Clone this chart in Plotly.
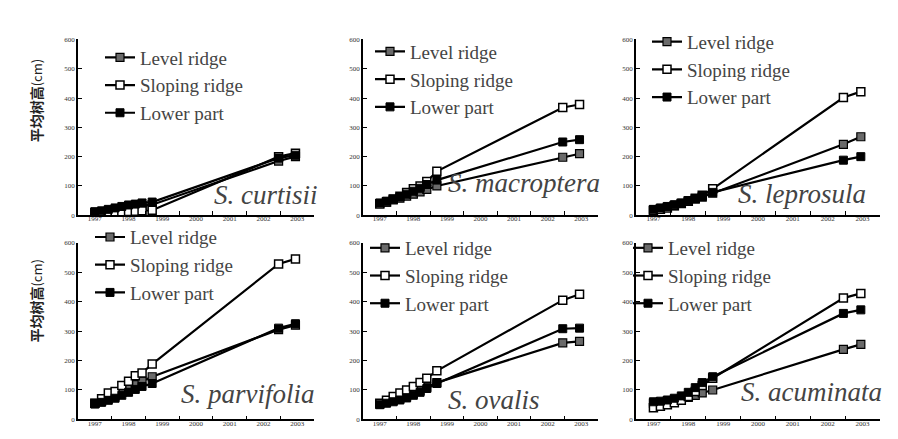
import plotly.graph_objects as go

# ---- data ----
years = [1997.5, 1997.7, 1997.9, 1998.1, 1998.3, 1998.5, 1998.7, 1998.9, 1999.2, 2002.95, 2003.45]
tick_years = ["1997", "1998", "1999", "2000", "2001", "2002", "2003"]
series_names = ["Level ridge", "Sloping ridge", "Lower part"]
species = ["S. curtisii", "S. macroptera", "S. leprosula", "S. parvifolia", "S. ovalis", "S. acuminata"]
y_title_cjk = "平均树高"
y_title_unit = "(cm)"

curtisii_level   = [10, 12, 15, 18, 22, 26, 30, 33, 36, 185, 200]
curtisii_sloping = [8, 9, 10, 11, 12, 13, 14, 15, 17, 200, 212]
curtisii_lower   = [12, 15, 20, 25, 30, 35, 38, 42, 45, 195, 205]

macroptera_level   = [40, 45, 52, 58, 65, 72, 80, 88, 100, 198, 210]
macroptera_sloping = [38, 45, 55, 65, 78, 90, 100, 115, 150, 368, 378]
macroptera_lower   = [42, 48, 55, 62, 72, 82, 92, 105, 120, 250, 258]

leprosula_level   = [18, 22, 28, 33, 40, 48, 55, 62, 75, 242, 268]
leprosula_sloping = [15, 20, 25, 32, 40, 48, 58, 68, 90, 402, 422]
leprosula_lower   = [20, 25, 30, 36, 42, 50, 57, 64, 78, 188, 200]

parvifolia_level   = [55, 62, 72, 80, 92, 105, 118, 130, 145, 305, 320]
parvifolia_sloping = [55, 70, 90, 95, 115, 130, 148, 158, 188, 528, 545]
parvifolia_lower   = [52, 58, 65, 72, 82, 92, 102, 112, 122, 310, 325]

ovalis_level   = [52, 58, 65, 72, 80, 88, 98, 110, 125, 260, 265]
ovalis_sloping = [55, 65, 78, 90, 100, 112, 125, 140, 165, 405, 425]
ovalis_lower   = [50, 55, 60, 66, 73, 82, 92, 105, 122, 308, 310]

acuminata_level   = [55, 58, 62, 66, 70, 75, 82, 90, 100, 238, 255]
acuminata_sloping = [40, 45, 50, 57, 65, 78, 95, 115, 140, 412, 428]
acuminata_lower   = [60, 62, 66, 72, 80, 92, 108, 125, 145, 360, 372]

panels = [
    (curtisii_level, curtisii_sloping, curtisii_lower),
    (macroptera_level, macroptera_sloping, macroptera_lower),
    (leprosula_level, leprosula_sloping, leprosula_lower),
    (parvifolia_level, parvifolia_sloping, parvifolia_lower),
    (ovalis_level, ovalis_sloping, ovalis_lower),
    (acuminata_level, acuminata_sloping, acuminata_lower),
]

# ---- layout geometry (pixels -> paper) ----
W, H = 898, 439
col_px = [(70, 306), (355, 590), (628, 872)]
row_px = [(28, 207), (235, 415)]
legend_px = [(92, 27), (362, 21), (639, 11), (82, 210), (357, 221), (620, 221)]
label_px = [(204, 186), (438, 174), (728, 185), (171, 389), (438, 395), (731, 387)]
ytitle_px = [(28, 91), (28, 295)]

marker_styles = [
    dict(symbol="square", size=8, color="#6a6a6a", line=dict(color="black", width=1.2)),
    dict(symbol="square", size=8, color="white", line=dict(color="black", width=1.5)),
    dict(symbol="square", size=8, color="black", line=dict(color="black", width=1)),
]

serif = "Liberation Serif"
fig = go.Figure()
layout = dict(
    width=W, height=H, margin=dict(l=0, r=0, t=0, b=0),
    paper_bgcolor="white", plot_bgcolor="white", showlegend=True,
    annotations=[],
)

for i, series in enumerate(panels):
    r, c = divmod(i, 3)
    ax = "" if i == 0 else str(i + 1)
    lg = "legend" if i == 0 else f"legend{i + 1}"
    for j, vals in enumerate(series):
        fig.add_trace(go.Scatter(
            x=years, y=vals, name=series_names[j], mode="lines+markers",
            line=dict(color="black", width=2.2), marker=marker_styles[j],
            xaxis="x" + ax, yaxis="y" + ax, legend=lg,
            legendgroup=f"g{i}_{j}",
        ))
    x0, x1 = col_px[c]
    y0, y1 = row_px[r]
    layout["xaxis" + ax] = dict(
        domain=[x0 / W, x1 / W], range=[1997, 2004], anchor="y" + ax,
        tickvals=[float(t) + 0.5 for t in tick_years], ticktext=tick_years,
        ticks="", showline=True, linecolor="black", linewidth=1.5,
        showgrid=False, zeroline=False, ticklabelstandoff=-4,
        tickfont=dict(family=serif, size=7, color="#333"),
        minor=dict(tickvals=[1998, 1999, 2000, 2001, 2002, 2003], ticks="inside",
                   ticklen=4, tickcolor="black", tickwidth=1, showgrid=False),
    )
    layout["yaxis" + ax] = dict(
        domain=[1 - y1 / H, 1 - y0 / H], range=[0, 600], anchor="x" + ax,
        tickvals=[0, 100, 200, 300, 400, 500, 600],
        ticks="inside", ticklen=4, tickcolor="black",
        showline=True, linecolor="black", linewidth=1.5,
        showgrid=False, zeroline=False,
        tickfont=dict(family=serif, size=7, color="#333"),
    )
    lx, ly = legend_px[i]
    layout[lg] = dict(
        x=lx / W, y=1 - ly / H, xanchor="left", yanchor="top",
        bgcolor="rgba(0,0,0,0)", font=dict(family=serif, size=19, color="#444"),
        tracegroupgap=0, itemwidth=30,
    )
    sx, sy = label_px[i]
    layout["annotations"].append(dict(
        x=sx / W, y=1 - sy / H, xref="paper", yref="paper",
        xanchor="left", yanchor="middle", showarrow=False,
        text=species[i],
        font=dict(family=serif, size=27, color="#444", style="italic"),
    ))

for tx, ty in ytitle_px:
    layout["annotations"].append(dict(
        x=tx / W, y=1 - ty / H, xref="paper", yref="paper",
        xanchor="center", yanchor="middle",
        showarrow=False, textangle=-90,
        text="<b>" + y_title_cjk + "</b><span style='font-size:13px'>" + y_title_unit + "</span>",
        font=dict(family="Noto Sans CJK SC", size=14, color="#222"),
    ))

fig.update_layout(**layout)
fig.write_html("out.html")
